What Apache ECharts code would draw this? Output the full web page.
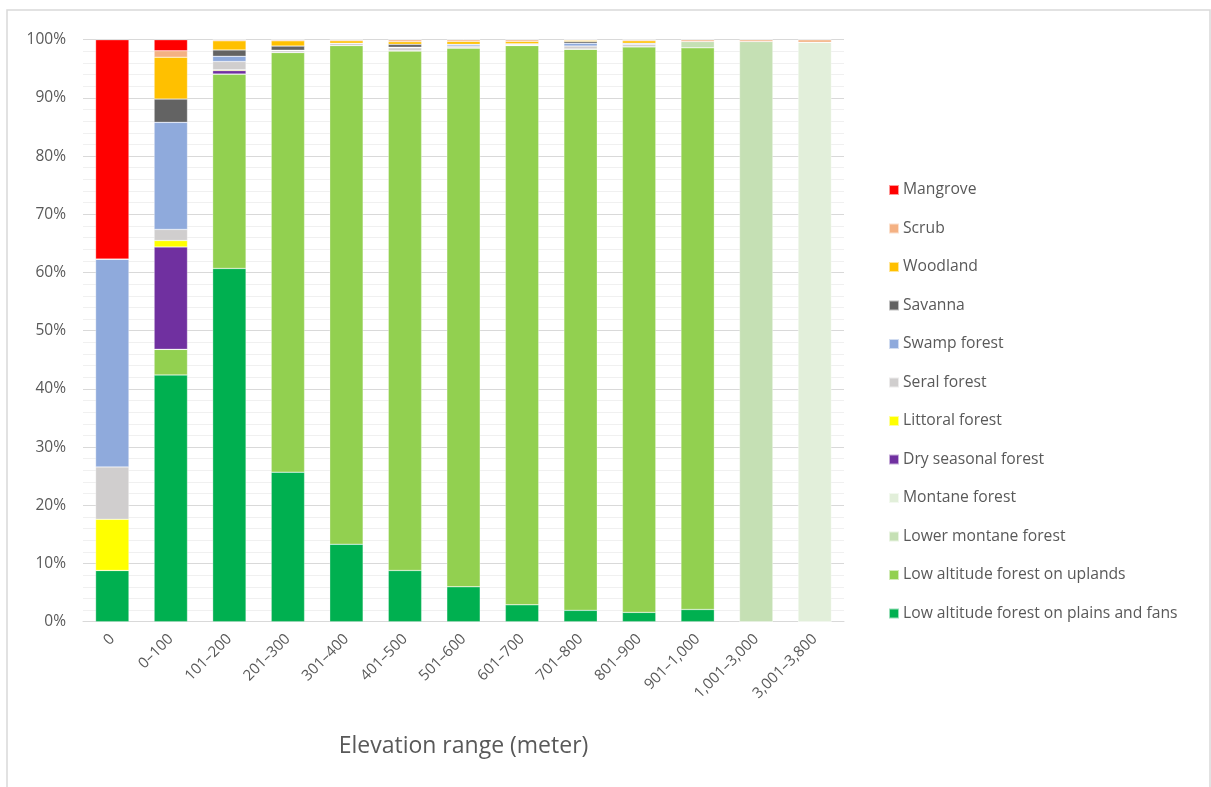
<!DOCTYPE html>
<html>
<head>
<meta charset="utf-8">
<script src="https://cdn.jsdelivr.net/npm/echarts@6/dist/echarts.min.js"></script>
<style>
html,body{margin:0;padding:0;background:#fff;}
#chart{width:1211px;height:787px;}
</style>
</head>
<body>
<div id="chart"></div>
<script>
// Categories (elevation ranges)
const categories = ['0','0–100','101–200','201–300','301–400','401–500','501–600','601–700','701–800','801–900','901–1,000','1,001–3,000','3,001–3,800'];

// Series values (percent of each elevation range)
const plainsAndFans   = [8.8, 42.4, 60.7, 25.7, 13.3, 8.8, 6.0, 2.9, 1.95, 1.6, 2.1, 0, 0];
const uplands         = [0, 4.4, 33.4, 72.1, 85.7, 89.3, 92.6, 96.1, 96.45, 97.2, 96.5, 0, 0];
const lowerMontane    = [0, 0, 0, 0, 0, 0, 0, 0, 0, 0, 1.1, 99.7, 0];
const montane         = [0, 0, 0, 0, 0, 0, 0, 0, 0, 0, 0, 0, 99.55];
const drySeasonal     = [0, 17.6, 0.6, 0, 0, 0, 0, 0, 0, 0, 0, 0, 0];
const littoral        = [8.8, 1.1, 0.15, 0, 0, 0, 0, 0, 0, 0, 0, 0, 0];
const seral           = [9.0, 1.9, 1.4, 0.3, 0.4, 0.5, 0.3, 0.1, 0.5, 0.4, 0, 0, 0];
const swamp           = [35.7, 18.4, 0.9, 0.1, 0, 0.1, 0.3, 0.1, 0.5, 0.2, 0, 0, 0];
const savanna         = [0, 4.0, 1.1, 0.7, 0, 0.5, 0, 0.1, 0.3, 0, 0, 0, 0];
const woodland        = [0, 7.2, 1.55, 0.9, 0.4, 0.45, 0.5, 0.4, 0.2, 0.4, 0, 0, 0];
const scrub           = [0, 1.1, 0.2, 0.2, 0.2, 0.35, 0.3, 0.3, 0.1, 0.2, 0.3, 0.3, 0.45];
const mangrove        = [37.7, 1.9, 0, 0, 0, 0, 0, 0, 0, 0, 0, 0, 0];

// Y tick labels
const yTicks = [0,10,20,30,40,50,60,70,80,90,100];

const stackDefs = [
  ['Low altitude forest on plains and fans', plainsAndFans, '#00B050'],
  ['Low altitude forest on uplands', uplands, '#92D050'],
  ['Lower montane forest', lowerMontane, '#C5E0B4'],
  ['Montane forest', montane, '#E2EFDA'],
  ['Dry seasonal forest', drySeasonal, '#7030A0'],
  ['Littoral forest', littoral, '#FFFF00'],
  ['Seral forest', seral, '#D0CECE'],
  ['Swamp forest', swamp, '#8FAADC'],
  ['Savanna', savanna, '#636363'],
  ['Woodland', woodland, '#FFC000'],
  ['Scrub', scrub, '#F4B183'],
  ['Mangrove', mangrove, '#FF0000']
];

const FONT = 'Open Sans';
const TXT = '#595959';

const series = stackDefs.map(([name, data, color]) => ({
  name: name,
  type: 'bar',
  stack: 'total',
  barWidth: '57%',
  data: data,
  itemStyle: { color: color, borderColor: 'rgba(255,255,255,0.6)', borderWidth: 0.5 },
  emphasis: { disabled: true }
}));

const chart = echarts.init(document.getElementById('chart'), null, { renderer: 'canvas' });
chart.setOption({
  animation: false,
  backgroundColor: '#ffffff',
  textStyle: { fontFamily: FONT },
  grid: { left: 83, right: 367, top: 39.7, bottom: 165.3, containLabel: false },
  graphic: [{
    type: 'rect',
    shape: { x: 7, y: 10, width: 1203, height: 800 },
    style: { fill: 'none', stroke: '#d9d9d9', lineWidth: 1.5 },
    silent: true
  }],
  legend: {
    orient: 'vertical',
    left: 883,
    top: 175.5,
    icon: 'rect',
    itemWidth: 10,
    itemHeight: 10,
    itemGap: 19.5,
    textStyle: { fontFamily: FONT, fontSize: 15.7, color: TXT, lineHeight: 19, padding: [0, 0, 0, -1] },
    data: stackDefs.map(d => d[0]).slice().reverse()
  },
  xAxis: {
    type: 'category',
    data: categories,
    axisTick: { show: false },
    axisLine: { lineStyle: { color: '#d9d9d9', width: 1 } },
    axisLabel: { rotate: 45, color: TXT, fontSize: 15, fontFamily: FONT, margin: 15, interval: 0 },
    name: 'Elevation range (meter)',
    nameLocation: 'middle',
    nameGap: 113,
    nameTextStyle: { fontFamily: FONT, fontSize: 23, color: TXT }
  },
  yAxis: {
    type: 'value',
    min: 0,
    max: 100,
    interval: 10,
    axisLine: { show: false },
    axisTick: { show: false },
    axisLabel: {
      color: TXT, fontSize: 15.5, fontFamily: FONT, margin: 17,
      formatter: v => (yTicks.indexOf(v) >= 0 ? v + '%' : '')
    },
    splitLine: { lineStyle: { color: '#d9d9d9', width: 1 } },
    minorTick: { show: false, splitNumber: 5 },
    minorSplitLine: { show: true, lineStyle: { color: '#f0f0f0', width: 1 } }
  },
  series: series
});
</script>
</body>
</html>
